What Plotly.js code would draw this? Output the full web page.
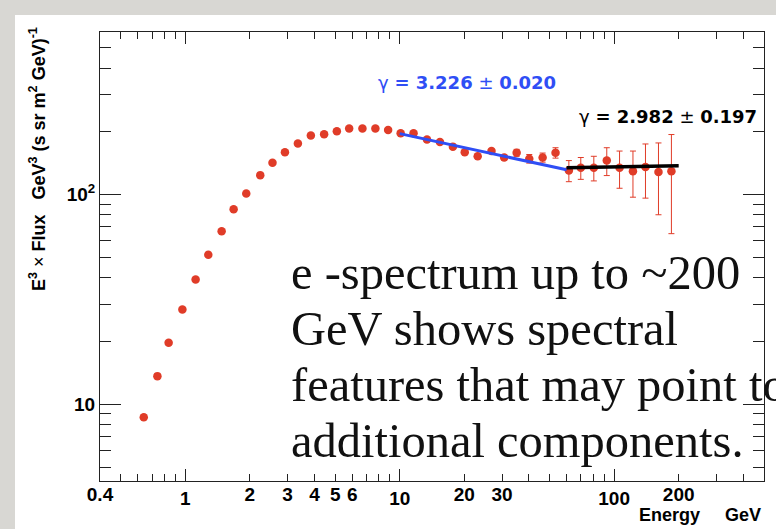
<!DOCTYPE html>
<html><head><meta charset="utf-8">
<script src="https://cdn.plot.ly/plotly-3.0.1.min.js"></script>
<style>
html,body{margin:0;padding:0;width:776px;height:529px;overflow:hidden;background:#d8d7d3;}
#panel{position:absolute;left:15px;top:15px;width:761px;height:514px;background:#fff;}
#chart{position:absolute;left:0;top:0;width:776px;height:529px;}
</style></head><body>
<div id="panel"></div><div id="chart"></div>
<script>
// Energy (GeV) and E^3 x Flux values
const energy = [0.64,0.741,0.836,0.969,1.117,1.28,1.477,1.68,1.924,2.236,2.55,2.915,3.35,3.85,4.44,5.09,5.81,6.70,7.70,8.83,
  10.1,11.6,13.4,15.4,17.7,20.1,23.1,26.8,30.7,35.1,40.2,46.4,53.3,61.5,69.9,80.4,92.4,106,122.4,140,161,185];
const flux = [8.65,13.6,19.6,28.3,39.3,51.6,66.8,84.9,101,123.6,141.6,159,175,191,193.7,200,206,206,206,203,
  196,196,183,178,169,159,152,161,150,158,148,150,158,130,134,134,145,134,129,135,128,129];
const fluxErr = [0.2,0.3,0.4,0.5,0.6,0.8,1,1.2,1.4,1.6,1.8,2,2.2,2.4,2.6,2.8,3,3,3,3,
  3,3,3,3,3,3,3,3.5,4,6,7,7.5,9,15,16,18,22,27,32,39,48,64];
const fitSoftE = [10, 60];
const fitSoftY = [195, 131];
const fitHardE = [60, 200];
const fitHardY = [134, 137];
const xMajorVals = [1, 10, 100];
const xMajorText = ['1', '10', '100'];
const xLabelVals = [0.4, 2, 3, 4, 5, 6, 20, 30, 200];
const xLabelText = ['0.4', '2', '3', '4', '5', '6', '20', '30', '200'];
const xMinorVals = [0.5,0.6,0.7,0.8,0.9,2,3,4,5,6,7,8,9,20,30,40,50,60,70,80,90,200,300,400,500];
const yMajorVals = [10, 100];
const yMajorText = ['10', '10<sup>2</sup>'];
const yMinorVals = [5,6,7,8,9,20,30,40,50,60,70,80,90,200,300,400,500];
const textLines = ['e -spectrum up to ~200', 'GeV shows spectral', 'features that may point to', 'additional components.'];

const RED = '#e03c28', BLUE = '#2f4ef5';
const xRange = [Math.log10(0.4), Math.log10(500)];
const yRange = [Math.log10(4.3), Math.log10(595)];
const tickFont = {family: 'Liberation Sans, Arial, sans-serif', size: 19, color: '#000', weight: 'bold'};

const traces = [
  {x: energy, y: flux, type: 'scatter', mode: 'markers',
   marker: {color: RED, size: 8.5},
   error_y: {type: 'data', array: fluxErr, visible: true, color: RED, thickness: 1, width: 3},
   hoverinfo: 'x+y', showlegend: false},
  {x: fitSoftE, y: fitSoftY, type: 'scatter', mode: 'lines', line: {color: BLUE, width: 3}, showlegend: false},
  {x: fitHardE, y: fitHardY, type: 'scatter', mode: 'lines', xaxis: 'x2', line: {color: '#000', width: 3.5}, showlegend: false}
];

const W = 776, H = 529, ML = 100, MR = 12, MT = 32, MB = 48;
const pw = W - ML - MR, ph = H - MT - MB;
const px = v => (v - ML) / pw;
const py = v => (H - MB - v) / ph;

const annotations = [
  {text: 'γ <b>= 3.226</b> ± <b>0.020</b>', xref: 'paper', yref: 'paper', x: px(376), y: py(82),
   xanchor: 'left', yanchor: 'middle', showarrow: false,
   font: {family: 'DejaVu Sans, sans-serif', size: 18, color: BLUE}},
  {text: 'γ <b>= 2.982</b> ± <b>0.197</b>', xref: 'paper', yref: 'paper', x: px(577), y: py(117),
   xanchor: 'left', yanchor: 'middle', showarrow: false,
   font: {family: 'DejaVu Sans, sans-serif', size: 18, color: '#000'}},
  {text: '<b>E<sup>3</sup></b> × <b>Flux\u00a0\u00a0\u00a0GeV<sup>3</sup> (s sr m<sup>2</sup> GeV)<sup>-1</sup></b>',
   xref: 'paper', yref: 'paper', x: px(37), y: py(159), textangle: -90,
   xanchor: 'center', yanchor: 'middle', showarrow: false,
   font: {family: 'Liberation Sans, Arial, sans-serif', size: 18, color: '#000'}},
  {text: '<b>Energy\u00a0\u00a0\u00a0\u00a0\u00a0GeV</b>', xref: 'paper', yref: 'paper', x: px(763), y: py(515),
   xanchor: 'right', yanchor: 'middle', showarrow: false,
   font: {family: 'Liberation Sans, Arial, sans-serif', size: 18, color: '#000'}}
];
const lineY = [272, 328, 384, 440];
textLines.forEach((t, i) => annotations.push({
  text: t, xref: 'paper', yref: 'paper', x: px(289), y: py(lineY[i]),
  xanchor: 'left', yanchor: 'middle', showarrow: false,
  font: {family: 'Liberation Serif, Times New Roman, serif', size: 48.5, color: '#111'}
}));

const layout = {
  width: W, height: H,
  margin: {l: ML, r: MR, t: MT, b: MB, autoexpand: false},
  paper_bgcolor: 'rgba(0,0,0,0)', plot_bgcolor: '#fff',
  showlegend: false,
  xaxis: {type: 'log', range: xRange, showgrid: false, zeroline: false,
    showline: true, linecolor: '#222', linewidth: 1, mirror: 'ticks',
    ticks: 'inside', ticklen: 12, tickwidth: 1, tickcolor: '#222',
    tickmode: 'array', tickvals: xMajorVals, ticktext: xMajorText, tickfont: tickFont,
    minor: {tickmode: 'array', tickvals: xMinorVals, ticks: 'inside', ticklen: 7, tickcolor: '#222', showgrid: false}},
  xaxis2: {type: 'log', range: xRange, overlaying: 'x', anchor: 'y', side: 'bottom',
    showgrid: false, zeroline: false, showline: false, ticks: '',
    tickmode: 'array', tickvals: xLabelVals, ticktext: xLabelText, tickfont: tickFont},
  yaxis: {type: 'log', range: yRange, showgrid: false, zeroline: false,
    showline: true, linecolor: '#222', linewidth: 1, mirror: 'ticks',
    ticks: 'inside', ticklen: 21, tickwidth: 1, tickcolor: '#222',
    tickmode: 'array', tickvals: yMajorVals, ticktext: yMajorText, tickfont: tickFont,
    minor: {tickmode: 'array', tickvals: yMinorVals, ticks: 'inside', ticklen: 11, tickcolor: '#222', showgrid: false}},
  annotations: annotations
};

Plotly.newPlot('chart', traces, layout, {staticPlot: true, displayModeBar: false});
</script>
</body></html>
